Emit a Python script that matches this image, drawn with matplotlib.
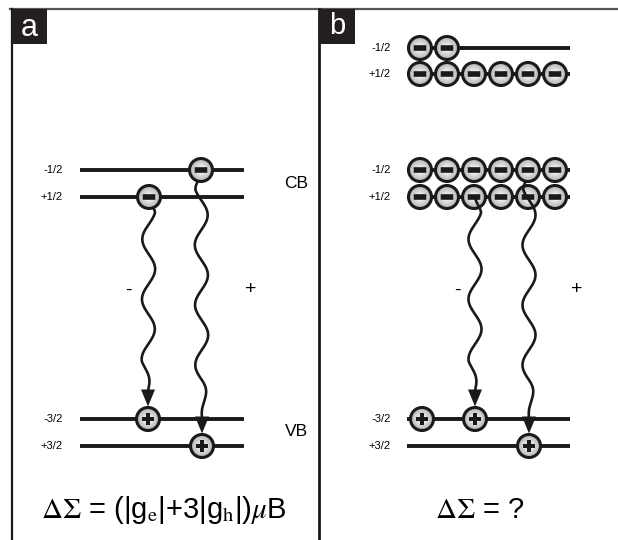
import numpy as np
import matplotlib.pyplot as plt
from matplotlib.patches import Circle, Rectangle, FancyBboxPatch, Polygon

plt.rcParams['font.family'] = ['Liberation Sans', 'DejaVu Sans']
plt.rcParams['mathtext.fontset'] = 'stix'

# panel a: levels (y position, label)
a_cb_levels = [170, 197]
a_vb_levels = [419, 446]
cb_labels = ['-1/2', '+1/2']
vb_labels = ['-3/2', '+3/2']
a_electrons = [(201, 170), (149, 197)]
a_holes = [(148, 419), (202, 446)]
a_transitions = [((149, 197), (148, 419)), ((201, 170), (202, 446))]

# panel b
b_top_levels = [48, 74]
b_cb_levels = [170, 197]
b_vb_levels = [419, 446]
b_cols = [420, 447, 474, 501, 528, 555]
b_top_counts = [2, 6]
b_cb_counts = [6, 6]
b_holes = [(422, 419), (475, 419), (529, 446)]
b_transitions = [((475, 197), (475, 419)), ((529, 170), (529, 446))]

R = 11.5

fig = plt.figure(figsize=(6.18, 5.40), dpi=100)
ax = fig.add_axes([0, 0, 1, 1])
ax.set_xlim(0, 618)
ax.set_ylim(540, 0)
ax.axis('off')


def particle(x, y, kind, z=5):
    # grey shaded disc
    for i, c in enumerate(np.linspace(0.70, 0.94, 8)):
        ax.add_patch(Circle((x, y), R * (1 - i * 0.1), color=str(c), lw=0, zorder=z))
    ax.add_patch(Circle((x, y), R, fill=False, ec='#1a1a1a', lw=2.2, zorder=z + 0.1))
    if kind == 'e':
        ax.add_patch(FancyBboxPatch((x - 6, y - 2.5), 12, 5, boxstyle='round,pad=0.3',
                                    fc='#1a1a1a', ec='none', zorder=z + 0.2))
    else:
        ax.add_patch(Rectangle((x - 6, y - 2.3), 12, 4.6, fc='#1a1a1a', ec='none', zorder=z + 0.2))
        ax.add_patch(Rectangle((x - 2.3, y - 6), 4.6, 12, fc='#1a1a1a', ec='none', zorder=z + 0.2))


def level(x0, x1, y):
    ax.plot([x0, x1], [y, y], color='#1a1a1a', lw=2.8, solid_capstyle='butt', zorder=2)


def wave(p0, p1, amp=6.5, lam=60, phase=0.0, z=4):
    (x0, y0), (x1, y1) = p0, p1
    ytip = y1 - R - 1
    t = np.linspace(0, 1, 300)
    y = y0 + t * (ytip - 16 - y0)
    env = np.clip(t / 0.08, 0, 1) * np.clip((1 - t) / 0.15, 0, 1)
    x = x0 + (x1 - x0) * t + amp * np.sin(2 * np.pi * (y - y0) / lam + phase) * env
    ax.plot(x, y, color='#1a1a1a', lw=1.9, zorder=z)
    ax.plot([x[-1], x1], [y[-1], ytip - 8], color='#1a1a1a', lw=1.9, zorder=z)
    ax.add_patch(Polygon([(x1 - 7, ytip - 17), (x1 + 7, ytip - 17), (x1, ytip)],
                         closed=True, fc='#1a1a1a', ec='none', zorder=z))


# frame
ax.plot([10, 618], [9, 9], color='#555555', lw=1.6, zorder=1)
ax.plot([12, 12], [9, 540], color='#1a1a1a', lw=1.6, zorder=1)
ax.plot([319, 319], [9, 540], color='#1a1a1a', lw=2.0, zorder=1)
ax.add_patch(Rectangle((12, 9), 35, 35, fc='#231f20', ec='none', zorder=3))
ax.add_patch(Rectangle((319, 9), 36, 35, fc='#231f20', ec='none', zorder=3))
ax.text(29, 28, 'a', color='white', fontsize=22, ha='center', va='center', zorder=4)
ax.text(337, 26, 'b', color='white', fontsize=21, ha='center', va='center', zorder=4)

# panel a
for y, lab in zip(a_cb_levels + a_vb_levels, cb_labels + vb_labels):
    level(80, 244, y)
    ax.text(63, y, lab, fontsize=8, ha='right', va='center')
ax.text(296, 184, 'CB', fontsize=12.5, ha='center', va='center')
ax.text(296, 432, 'VB', fontsize=12.5, ha='center', va='center')
ax.text(128, 290, '-', fontsize=14, ha='center', va='center')
ax.text(251, 290, '+', fontsize=14, ha='center', va='center')
for x, y in a_electrons:
    particle(x, y, 'e')
for x, y in a_holes:
    particle(x, y, 'h')
wave(*a_transitions[0], phase=0.3)
wave(*a_transitions[1], phase=np.pi)
ax.text(164, 510, r'$\Delta\Sigma$ = (|g$_{\rm e}$|+3|g$_{\rm h}$|)$\mu$B',
        fontsize=21, ha='center', va='center')

# panel b
for y, lab in zip(b_top_levels, cb_labels):
    level(407, 570, y)
    ax.text(391, y, lab, fontsize=8, ha='right', va='center')
for y, lab in zip(b_cb_levels, cb_labels):
    level(407, 570, y)
    ax.text(391, y, lab, fontsize=8, ha='right', va='center')
for y, lab in zip(b_vb_levels, vb_labels):
    level(407, 570, y)
    ax.text(391, y, lab, fontsize=8, ha='right', va='center')
for y, n in zip(b_top_levels, b_top_counts):
    for x in b_cols[:n]:
        particle(x, y, 'e')
for y, n in zip(b_cb_levels, b_cb_counts):
    for x in b_cols[:n]:
        particle(x, y, 'e', z=3 if y == b_cb_levels[1] else 5)
for x, y in b_holes:
    particle(x, y, 'h')
ax.text(457, 290, '-', fontsize=14, ha='center', va='center')
ax.text(577, 290, '+', fontsize=14, ha='center', va='center')
wave(*b_transitions[0], phase=0.3)
wave(*b_transitions[1], phase=np.pi, z=4.5)
ax.text(480, 510, r'$\Delta\Sigma$ = ?', fontsize=21, ha='center', va='center')

fig.savefig('out.png', dpi=100, facecolor='white')
